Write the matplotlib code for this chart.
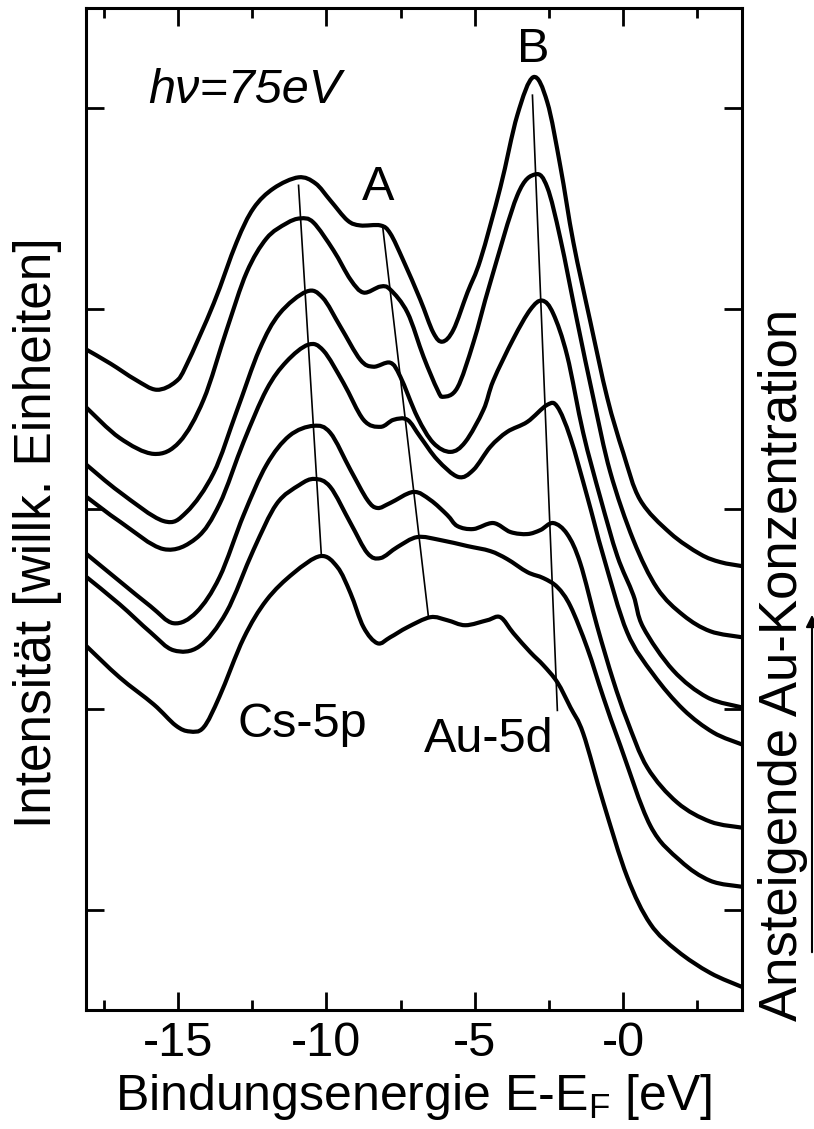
import matplotlib
matplotlib.use("Agg")
import matplotlib.pyplot as plt
from matplotlib.path import Path
from matplotlib.patches import PathPatch, FancyArrowPatch
import numpy as np

plt.rcParams['font.family'] = ['Liberation Sans', 'DejaVu Sans']

# ---- data (binding energy in eV, intensity in arbitrary units) ----
x1 = [-18.08,-17.27,-16.43,-15.72,-15.08,-14.71,-13.80,-13.03,-12.46,-11.78,-10.94,-10.37,-9.87,-9.29,-8.86,-8.18,-7.85,-7.41,-6.84,-6.40,-6.09,-5.72,-5.25,-4.81,-4.14,-3.57,-3.03,-2.56,-2.12,-1.68,-1.11,-0.54,0.0,0.57,1.58,2.59,3.27,4.0]
y1 = [6.59,6.45,6.29,6.19,6.27,6.44,7.05,7.66,8.00,8.20,8.31,8.25,8.08,7.88,7.83,7.83,7.75,7.48,7.09,6.76,6.67,6.79,7.16,7.49,8.21,8.93,9.31,9.06,8.42,7.66,6.87,6.11,5.56,5.09,4.76,4.55,4.47,4.43]

x2 = [-18.08,-16.97,-15.82,-14.95,-14.14,-13.37,-12.69,-12.02,-11.35,-10.88,-10.44,-9.76,-9.19,-8.75,-8.18,-7.85,-7.27,-6.73,-6.26,-6.06,-5.59,-5.05,-4.48,-3.57,-2.96,-2.56,-2.12,-1.55,-1.01,-0.44,0.34,1.14,2.02,2.93,4.0]
y2 = [6.01,5.71,5.55,5.67,6.09,6.78,7.36,7.70,7.85,7.90,7.86,7.58,7.29,7.16,7.22,7.19,6.96,6.52,6.19,6.12,6.21,6.66,7.26,8.13,8.34,8.21,7.70,6.87,6.11,5.37,4.69,4.21,3.94,3.78,3.72]

x3 = [-18.08,-16.97,-15.49,-14.71,-13.80,-13.03,-12.26,-11.58,-10.67,-10.13,-9.53,-8.86,-8.42,-7.85,-7.51,-6.94,-6.40,-5.82,-5.32,-4.71,-4.38,-3.70,-3.13,-2.73,-2.36,-1.89,-1.35,-0.77,-0.20,0.34,0.67,1.68,2.83,4.0]
y3 = [5.44,5.17,4.88,4.97,5.36,5.97,6.59,6.95,7.17,7.11,6.82,6.49,6.42,6.46,6.32,5.92,5.66,5.57,5.67,5.99,6.28,6.70,6.99,7.08,6.95,6.53,5.76,5.11,4.53,4.14,3.82,3.39,3.12,3.02]

x4 = [-18.08,-16.94,-15.49,-14.38,-13.60,-12.79,-12.02,-11.35,-10.61,-10.10,-9.43,-8.75,-8.18,-7.74,-7.27,-6.84,-6.26,-5.56,-5.05,-4.48,-3.91,-3.23,-2.56,-2.22,-1.78,-1.21,-0.67,0.13,1.01,2.02,3.03,4.0]
y4 = [5.12,4.87,4.60,4.71,5.05,5.67,6.19,6.47,6.64,6.58,6.26,5.89,5.82,5.89,5.89,5.72,5.49,5.32,5.39,5.62,5.77,5.87,6.04,6.02,5.71,5.12,4.53,3.77,3.35,3.00,2.77,2.65]

x5 = [-18.08,-16.97,-15.93,-15.15,-14.38,-13.60,-12.79,-12.02,-11.25,-10.44,-9.87,-9.19,-8.62,-8.28,-7.85,-7.07,-6.50,-5.93,-5.59,-5.05,-4.38,-3.80,-3.23,-2.79,-2.36,-1.89,-1.45,-0.88,-0.34,0.13,0.81,1.82,2.93,4.0]
y5 = [4.55,4.28,4.03,3.86,3.97,4.32,4.94,5.44,5.73,5.83,5.76,5.39,5.09,5.01,5.06,5.17,5.09,4.94,4.83,4.80,4.86,4.77,4.75,4.79,4.86,4.75,4.46,3.83,3.29,2.89,2.42,2.07,1.88,1.82]

x6 = [-18.08,-16.97,-15.93,-15.15,-14.28,-13.37,-12.46,-11.68,-10.91,-10.40,-9.87,-9.19,-8.62,-8.18,-7.61,-6.94,-6.16,-5.25,-4.48,-3.91,-3.23,-2.69,-2.22,-1.78,-1.21,-0.67,-0.10,0.91,1.92,2.93,4.0]
y6 = [4.32,4.05,3.77,3.59,3.63,3.97,4.59,5.05,5.24,5.30,5.22,4.86,4.56,4.51,4.62,4.72,4.69,4.63,4.58,4.50,4.37,4.31,4.22,4.03,3.61,3.12,2.64,1.84,1.49,1.29,1.23]

x7 = [-18.08,-16.97,-15.82,-15.08,-14.61,-14.14,-13.60,-12.79,-12.02,-11.11,-10.20,-9.63,-9.19,-8.75,-8.28,-7.85,-7.27,-6.50,-5.93,-5.32,-4.58,-4.14,-3.70,-3.13,-2.69,-2.22,-1.78,-1.35,-0.67,0.13,0.91,1.82,2.93,4.0]
y7 = [3.63,3.32,3.05,2.84,2.78,2.82,3.13,3.71,4.09,4.36,4.53,4.42,4.16,3.82,3.66,3.72,3.82,3.92,3.89,3.84,3.89,3.92,3.76,3.57,3.44,3.27,3.02,2.76,2.07,1.33,0.86,0.59,0.37,0.23]

# peak-tracking guide lines: (x_top, x_bottom), (y_top, y_bottom)
guide_cs_x = [-10.94, -10.17]
guide_cs_y = [8.23, 4.53]
guide_a_x = [-8.11, -6.57]
guide_a_y = [7.83, 3.94]
guide_b_x = [-3.06, -2.22]
guide_b_y = [9.13, 2.99]

xticks = [-15, -10, -5, 0]
xtick_labels = ['-15', '-10', '-5', '-0']
xminor = [-17.5, -12.5, -7.5, -2.5, 2.5]
yticks = [1, 3, 5, 7, 9]


def smooth_path(xs, ys):
    """Catmull-Rom spline through the data points, drawn as cubic Bezier path."""
    p = np.column_stack([xs, ys]).astype(float)
    n = len(p)
    verts = [p[0]]
    codes = [Path.MOVETO]
    for i in range(n - 1):
        p0 = p[i - 1] if i > 0 else p[i]
        p1 = p[i]
        p2 = p[i + 1]
        p3 = p[i + 2] if i + 2 < n else p[i + 1]
        c1 = p1 + (p2 - p0) / 6.0
        c2 = p2 - (p3 - p1) / 6.0
        verts += [c1, c2, p2]
        codes += [Path.CURVE4] * 3
    return Path(verts, codes)


W, H = 814, 1129
fig = plt.figure(figsize=(W / 100, H / 100), dpi=100)
ax = fig.add_axes([86 / W, 1 - 1010 / H, (742 - 86) / W, (1010 - 8) / H])

for xs, ys in [(x1, y1), (x2, y2), (x3, y3), (x4, y4), (x5, y5), (x6, y6), (x7, y7)]:
    ax.add_patch(PathPatch(smooth_path(xs, ys), fill=False, edgecolor='black', lw=3.0,
                           joinstyle='round', capstyle='round'))

for gx, gy in [(guide_cs_x, guide_cs_y), (guide_a_x, guide_a_y), (guide_b_x, guide_b_y)]:
    ax.plot(gx, gy, color='black', lw=1.2)

ax.set_xlim(-18.1, 4.0)
ax.set_ylim(0, 10)
ax.set_xticks(xticks)
ax.set_xticklabels(xtick_labels)
ax.set_xticks(xminor, minor=True)
ax.set_yticks(yticks)
ax.set_yticklabels([])
ax.tick_params(axis='both', which='major', direction='in', top=True, right=True,
               length=13, width=2, labelsize=35, pad=8)
ax.tick_params(axis='x', which='minor', direction='in', top=True, length=7, width=2)
for sp in ax.spines.values():
    sp.set_linewidth(2.2)

fs = 35
ax.text(-15.99, 9.05, 'h\u03bd=75eV', fontsize=fs, style='italic', ha='left', va='baseline')
ax.text(-8.25, 8.08, 'A', fontsize=fs, ha='center', va='baseline')
ax.text(-3.03, 9.46, 'B', fontsize=fs, ha='center', va='baseline')
ax.text(-13.0, 2.72, 'Cs-5p', fontsize=fs, ha='left', va='baseline')
ax.text(-6.73, 2.57, 'Au-5d', fontsize=fs, ha='left', va='baseline')

fig.text(414 / W, 1 - 1110 / H, 'Bindungsenergie E-E$_\\mathregular{F}$ [eV]', fontsize=36,
         ha='center', va='baseline')
fig.text(38 / W, 1 - 533 / H, 'Intensit\u00e4t [willk. Einheiten]', fontsize=37,
         rotation=90, ha='center', va='center')
fig.text(783 / W, 1 - 665 / H, 'Ansteigende Au-Konzentration', fontsize=38,
         rotation=90, ha='center', va='center')
fig.patches.append(FancyArrowPatch(
    (812 / W, 1 - 955 / H), (812 / W, 1 - 612 / H), transform=fig.transFigure,
    arrowstyle='-|>', mutation_scale=18, lw=1.5, color='black'))

fig.savefig('out.png', dpi=100)
